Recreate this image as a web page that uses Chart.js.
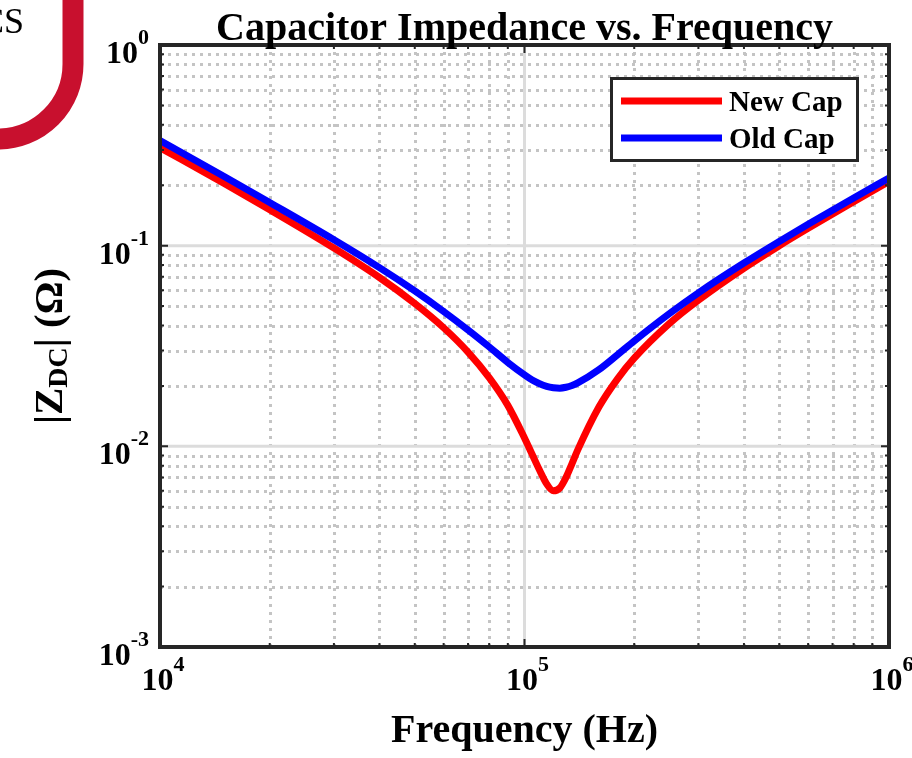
<!DOCTYPE html>
<html>
<head>
<meta charset="utf-8">
<title>Capacitor Impedance vs. Frequency</title>
<script src="https://cdn.jsdelivr.net/npm/chart.js@4.4.1/dist/chart.umd.min.js"></script>
<style>
  html, body { margin: 0; padding: 0; background: #fff; }
  #wrap { width: 912px; height: 758px; }
</style>
</head>
<body>
<div id="wrap"><canvas id="zChart" width="912" height="758"></canvas></div>
<script>
// measured |Z| (ohm) of both parts
const freqHz = [1e4, 1.5e4, 2e4, 3e4, 4e4, 5e4, 6e4, 7e4, 8e4, 9e4, 1e5, 1.05e5, 1.1e5, 1.15e5, 1.2e5,
    1.25e5, 1.3e5, 1.35e5, 1.4e5, 1.6e5, 1.8e5, 2e5, 2.5e5, 3e5, 4e5, 5e5, 6e5, 8e5, 1e6];
const newCap = [0.308, 0.204, 0.151, 0.0973, 0.0694, 0.0515, 0.039, 0.0295, 0.022, 0.016, 0.011, 0.0091,
    0.0076, 0.0065, 0.0060, 0.0062, 0.0070, 0.0082, 0.0096, 0.0157, 0.0217, 0.0275, 0.041, 0.0535, 0.0772,
    0.0999, 0.122, 0.1655, 0.2086];
const oldCap = [0.334, 0.221, 0.164, 0.107, 0.0777, 0.0595, 0.047, 0.038, 0.0313, 0.0262, 0.0227, 0.0214,
    0.0205, 0.0199, 0.0196, 0.0195, 0.0197, 0.0201, 0.0207, 0.0241, 0.0286, 0.0335, 0.0459, 0.0582, 0.0819,
    0.105, 0.1278, 0.1728, 0.2174];
const seriesNames = ['New Cap', 'Old Cap'];
const xDecades = [4, 5, 6];
const yDecades = [-3, -2, -1, 0];

const SERIF = '"Liberation Serif", "Times New Roman", serif';
const INK = '#262626';

// 1..9 x 10^n inside the decade range
function logTicks(decades) {
    const out = [];
    for (let i = 0; i < decades.length; i++) {
        const base = Math.pow(10, decades[i]);
        out.push({ value: base, major: true, exp: decades[i] });
        if (i < decades.length - 1) {
            for (let m = 2; m <= 9; m++) out.push({ value: m * base, major: false });
        }
    }
    return out;
}
const xTicks = logTicks(xDecades);
const yTicks = logTicks(yDecades);

// "10" with a raised exponent
function drawPower(ctx, exp, x, y, align) {
    const base = '10', sup = String(exp);
    ctx.font = 'bold 32px ' + SERIF;
    const wb = ctx.measureText(base).width;
    ctx.font = 'bold 22px ' + SERIF;
    const ws = ctx.measureText(sup).width;
    const left = align === 'right' ? x - wb - ws : x - (wb + ws) / 2;
    ctx.textAlign = 'left';
    ctx.textBaseline = 'alphabetic';
    ctx.font = 'bold 32px ' + SERIF;
    ctx.fillText(base, left, y);
    ctx.font = 'bold 22px ' + SERIF;
    ctx.fillText(sup, left + wb, y - 19);
}

const decorPlugin = {
    id: 'decor',
    beforeDraw(chart) {
        const { ctx } = chart;
        ctx.save();
        ctx.fillStyle = '#fff';
        ctx.fillRect(0, 0, chart.width, chart.height);
        // corner badge
        ctx.strokeStyle = '#c8102e';
        ctx.lineWidth = 21;
        ctx.beginPath();
        ctx.moveTo(73, -10);
        ctx.lineTo(73, 64);
        ctx.arcTo(73, 139, -2, 139, 75);
        ctx.lineTo(-20, 139);
        ctx.stroke();
        ctx.fillStyle = '#000';
        ctx.font = '36px ' + SERIF;
        ctx.textAlign = 'right';
        ctx.textBaseline = 'alphabetic';
        ctx.fillText('CS', 24, 33);
        ctx.restore();
    },
    beforeDatasetsDraw(chart) {
        const { ctx, chartArea: a, scales: { x, y } } = chart;
        ctx.save();
        // minor grid, dotted
        ctx.lineWidth = 3;
        ctx.strokeStyle = '#c4c4c4';
        ctx.setLineDash([3, 5]);
        xTicks.filter(t => !t.major).forEach(t => {
            const px = Math.round(x.getPixelForValue(t.value)) + 0.5;
            ctx.beginPath(); ctx.moveTo(px, a.bottom); ctx.lineTo(px, a.top); ctx.stroke();
        });
        yTicks.filter(t => !t.major).forEach(t => {
            const py = Math.round(y.getPixelForValue(t.value)) + 0.5;
            ctx.beginPath(); ctx.moveTo(a.left, py); ctx.lineTo(a.right, py); ctx.stroke();
        });
        // major grid, solid
        ctx.setLineDash([]);
        ctx.strokeStyle = '#dcdcdc';
        xTicks.filter(t => t.major).forEach(t => {
            const px = x.getPixelForValue(t.value);
            ctx.beginPath(); ctx.moveTo(px, a.bottom); ctx.lineTo(px, a.top); ctx.stroke();
        });
        yTicks.filter(t => t.major).forEach(t => {
            const py = y.getPixelForValue(t.value);
            ctx.beginPath(); ctx.moveTo(a.left, py); ctx.lineTo(a.right, py); ctx.stroke();
        });
        ctx.restore();
    },
    afterDatasetsDraw(chart) {
        const { ctx, chartArea: a, scales: { x, y } } = chart;
        ctx.save();
        // inward tick marks
        ctx.strokeStyle = INK;
        ctx.lineWidth = 2;
        xTicks.forEach(t => {
            const px = x.getPixelForValue(t.value);
            const len = t.major ? 8 : 4;
            ctx.beginPath();
            ctx.moveTo(px, a.bottom); ctx.lineTo(px, a.bottom - len);
            ctx.moveTo(px, a.top); ctx.lineTo(px, a.top + len);
            ctx.stroke();
        });
        yTicks.forEach(t => {
            const py = y.getPixelForValue(t.value);
            const len = t.major ? 8 : 4;
            ctx.beginPath();
            ctx.moveTo(a.left, py); ctx.lineTo(a.left + len, py);
            ctx.moveTo(a.right, py); ctx.lineTo(a.right - len, py);
            ctx.stroke();
        });
        // axes box
        ctx.lineWidth = 4;
        ctx.strokeRect(a.left, a.top, a.right - a.left, a.bottom - a.top);

        // legend
        const box = { x: 611.5, y: 78.5, w: 246, h: 82 };
        ctx.fillStyle = '#fff';
        ctx.fillRect(box.x, box.y, box.w, box.h);
        ctx.lineWidth = 3;
        ctx.strokeRect(box.x, box.y, box.w, box.h);
        chart.data.datasets.forEach((ds, i) => {
            const ly = 101 + i * 37;
            ctx.strokeStyle = ds.borderColor;
            ctx.lineWidth = 7;
            ctx.beginPath(); ctx.moveTo(621, ly); ctx.lineTo(722, ly); ctx.stroke();
            ctx.fillStyle = '#000';
            ctx.font = 'bold 29px ' + SERIF;
            ctx.textAlign = 'left';
            ctx.textBaseline = 'alphabetic';
            ctx.fillText(ds.label, 729, ly + 10);
        });
        ctx.restore();
    },
    afterDraw(chart) {
        const { ctx, chartArea: a, scales: { x, y } } = chart;
        const cx = (a.left + a.right) / 2;
        const cy = (a.top + a.bottom) / 2;
        ctx.save();
        ctx.fillStyle = '#000';
        // tick labels
        xTicks.filter(t => t.major).forEach(t => drawPower(ctx, t.exp, x.getPixelForValue(t.value) + 3, 690, 'center'));
        yTicks.filter(t => t.major).forEach(t => drawPower(ctx, t.exp, 149, y.getPixelForValue(t.value) + 18, 'right'));

        // title and x label
        ctx.textAlign = 'center';
        ctx.textBaseline = 'alphabetic';
        ctx.font = 'bold 40px ' + SERIF;
        ctx.fillText('Capacitor Impedance vs. Frequency', cx, 40);
        ctx.fillText('Frequency (Hz)', cx, 742);

        // y label with subscript, rotated
        const big = 'bold 41px ' + SERIF, small = 'bold 28px ' + SERIF;
        const parts = [['|Z', big, 0], ['DC', small, 5], ['| (\u03A9)', big, 0]];
        let total = 0;
        parts.forEach(p => { ctx.font = p[1]; p.push(ctx.measureText(p[0]).width); total += p[3]; });
        ctx.translate(62, cy);
        ctx.rotate(-Math.PI / 2);
        ctx.textAlign = 'left';
        let pos = -total / 2;
        parts.forEach(p => {
            ctx.font = p[1];
            ctx.fillText(p[0], pos, p[2]);
            pos += p[3];
        });
        ctx.restore();
    }
};

const ctx = document.getElementById('zChart').getContext('2d');
const zChart = new Chart(ctx, {
    type: 'line',
    data: {
        datasets: [{
            label: seriesNames[0],
            data: freqHz.map((f, i) => ({ x: f, y: newCap[i] })),
            borderColor: '#ff0000',
            borderWidth: 7,
            order: 1
        }, {
            label: seriesNames[1],
            data: freqHz.map((f, i) => ({ x: f, y: oldCap[i] })),
            borderColor: '#0000ff',
            borderWidth: 7,
            order: 0
        }]
    },
    options: {
        responsive: false,
        animation: false,
        events: [],
        layout: {
            padding: { left: 160, right: 23, top: 45, bottom: 111 }
        },
        elements: {
            point: { radius: 0 },
            line: { cubicInterpolationMode: 'monotone', borderCapStyle: 'round', borderJoinStyle: 'round' }
        },
        datasets: {
            line: { clip: 0 }
        },
        plugins: {
            legend: { display: false },
            title: { display: false },
            tooltip: { enabled: false }
        },
        scales: {
            x: {
                type: 'logarithmic',
                display: false,
                min: Math.pow(10, xDecades[0]),
                max: Math.pow(10, xDecades[xDecades.length - 1])
            },
            y: {
                type: 'logarithmic',
                display: false,
                min: Math.pow(10, yDecades[0]),
                max: Math.pow(10, yDecades[yDecades.length - 1])
            }
        }
    },
    plugins: [decorPlugin]
});
</script>
</body>
</html>
